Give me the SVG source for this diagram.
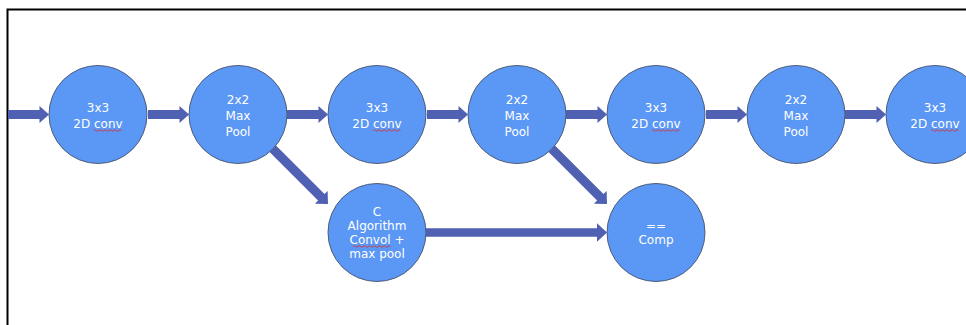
<svg xmlns="http://www.w3.org/2000/svg" width="966" height="325" viewBox="0 0 966 325">
<style>
.node circle{fill:#5b97f5;stroke:#4f5d78;stroke-width:1}
.node text{fill:#ffffff;font-family:"DejaVu Sans","Liberation Sans",sans-serif;font-size:12px;text-anchor:middle}
.arr{fill:#5060b2}
.sq{fill:none;stroke:#e0302a;stroke-width:0.9}
</style>
<defs>
<path id="ha" d="M-41,-4.5 H-9.5 V-8.5 L0,0 L-9.5,8.5 V4.5 H-41 Z"/>
<path id="da" d="M-88,-4.5 H-9.5 V-9 L0,0 L-9.5,9 V4.5 H-88 Z"/>
</defs>
<rect width="966" height="325" fill="#ffffff"/>
<path d="M7.5,325 V9.5 H966" fill="none" stroke="#000" stroke-width="2"/>
<g id="connectors" class="arr">
<use href="#ha" transform="translate(49,114.5)"/>
<use href="#ha" transform="translate(189,114.5)"/>
<use href="#ha" transform="translate(328,114.5)"/>
<use href="#ha" transform="translate(468,114.5)"/>
<use href="#ha" transform="translate(607,114.5)"/>
<use href="#ha" transform="translate(747,114.5)"/>
<use href="#ha" transform="translate(886,114.5)"/>
<path d="M420,228.3 H597 V223.3 L607,232.5 L597,241.7 V236.7 H420 Z"/>
<use href="#da" transform="translate(328,204) rotate(45)"/>
<use href="#da" transform="translate(607,204) rotate(45)"/>
</g>
<g id="n1" class="node"><circle cx="98" cy="114.5" r="49"/><text x="98" y="111.5">3x3</text><text x="98" y="127.5">2D conv</text><path class="sq" d="M94,130.5 q1.25,-1.6 2.5,0 t2.5,0 t2.5,0 t2.5,0 t2.5,0 t2.5,0 t2.5,0 t2.5,0 t2.5,0 t2.5,0 t2.5,0"/></g>
<g id="n2" class="node"><circle cx="238" cy="114.5" r="49"/><text x="238" y="103.5">2x2</text><text x="238" y="119.5">Max</text><text x="238" y="135.5">Pool</text></g>
<g id="n3" class="node"><circle cx="377" cy="114.5" r="49"/><text x="377" y="111.5">3x3</text><text x="377" y="127.5">2D conv</text><path class="sq" d="M373,130.5 q1.25,-1.6 2.5,0 t2.5,0 t2.5,0 t2.5,0 t2.5,0 t2.5,0 t2.5,0 t2.5,0 t2.5,0 t2.5,0 t2.5,0"/></g>
<g id="n4" class="node"><circle cx="517" cy="114.5" r="49"/><text x="517" y="103.5">2x2</text><text x="517" y="119.5">Max</text><text x="517" y="135.5">Pool</text></g>
<g id="n5" class="node"><circle cx="656" cy="114.5" r="49"/><text x="656" y="111.5">3x3</text><text x="656" y="127.5">2D conv</text><path class="sq" d="M652,130.5 q1.25,-1.6 2.5,0 t2.5,0 t2.5,0 t2.5,0 t2.5,0 t2.5,0 t2.5,0 t2.5,0 t2.5,0 t2.5,0 t2.5,0"/></g>
<g id="n6" class="node"><circle cx="796" cy="114.5" r="49"/><text x="796" y="103.5">2x2</text><text x="796" y="119.5">Max</text><text x="796" y="135.5">Pool</text></g>
<g id="n7" class="node"><circle cx="935" cy="114.5" r="49"/><text x="935" y="111.5">3x3</text><text x="935" y="127.5">2D conv</text><path class="sq" d="M931,130.5 q1.25,-1.6 2.5,0 t2.5,0 t2.5,0 t2.5,0 t2.5,0 t2.5,0 t2.5,0 t2.5,0 t2.5,0 t2.5,0 t2.5,0"/></g>
<g id="n8" class="node"><circle cx="377" cy="232.5" r="49"/><text x="377" y="215.5">C</text><text x="377" y="229.5">Algorithm</text><text x="377" y="243.5">Convol +</text><text x="377" y="257.5">max pool</text><path class="sq" d="M353,246.5 q1.25,-1.6 2.5,0 t2.5,0 t2.5,0 t2.5,0 t2.5,0 t2.5,0 t2.5,0 t2.5,0 t2.5,0 t2.5,0 t2.5,0 t2.5,0 t2.5,0 t2.5,0 t2.5,0"/></g>
<g id="n9" class="node"><circle cx="656" cy="232.5" r="49"/><text x="656" y="230">==</text><text x="656" y="244">Comp</text></g>
</svg>
